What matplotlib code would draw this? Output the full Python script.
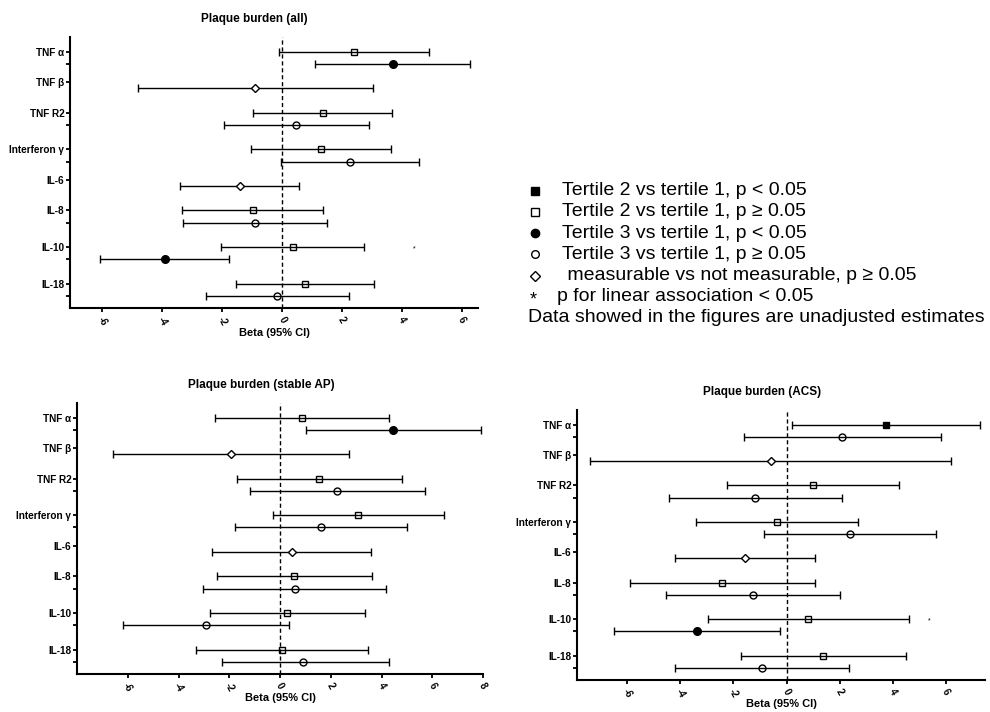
import matplotlib
matplotlib.use("Agg")
import matplotlib.pyplot as plt
import numpy as np

plt.rcParams["font.family"] = ["Liberation Sans", "DejaVu Sans"]

# cytokine labels (one per group) and the rows that belong to them
cytokines = ["TNF α", "TNF β", "TNF R2", "Interferon γ", "IL-6", "IL-8", "IL-10", "IL-18"]
row_ids = ["TNFa_T2", "TNFa_T3", "TNFb_meas", "TNFR2_T2", "TNFR2_T3",
           "IFNg_T2", "IFNg_T3", "IL6_meas", "IL8_T2", "IL8_T3",
           "IL10_T2", "IL10_T3", "IL18_T2", "IL18_T3"]

# --- Plaque burden (all)
all_est = [2.41, 3.70, -0.89, 1.36, 0.48, 1.30, 2.26, -1.41, -0.97, -0.90, 0.37, -3.91, 0.78, -0.16]
all_lo = [-0.11, 1.11, -4.81, -0.97, -1.94, -1.03, -0.03, -3.39, -3.33, -3.30, -2.03, -6.06, -1.52, -2.52]
all_hi = [4.91, 6.28, 3.03, 3.67, 2.91, 3.63, 4.56, 0.58, 1.37, 1.50, 2.74, -1.77, 3.08, 2.22]
all_kind = ["sq_open", "ci_fill", "diamond", "sq_open", "ci_open", "sq_open", "ci_open",
            "diamond", "sq_open", "ci_open", "sq_open", "ci_fill", "sq_open", "ci_open"]
all_star = {"IL10_T2": 4.42}

# --- Plaque burden (stable AP)
sap_est = [0.86, 4.44, -1.93, 1.54, 2.26, 3.07, 1.61, 0.46, 0.56, 0.58, 0.29, -2.93, 0.09, 0.90]
sap_lo = [-2.55, 1.02, -6.59, -1.70, -1.20, -0.29, -1.76, -2.67, -2.47, -3.03, -2.75, -6.20, -3.31, -2.29]
sap_hi = [4.31, 7.91, 2.72, 4.81, 5.73, 6.47, 4.99, 3.57, 3.63, 4.18, 3.33, 0.34, 3.46, 4.31]
sap_kind = ["sq_open", "ci_fill", "diamond", "sq_open", "ci_open", "sq_open", "ci_open",
            "diamond", "sq_open", "ci_open", "sq_open", "ci_open", "sq_open", "ci_open"]
sap_star = {}

# --- Plaque burden (ACS)
acs_est = [3.74, 2.09, -0.60, 1.01, -1.17, -0.36, 2.39, -1.56, -2.42, -1.26, 0.82, -3.38, 1.38, -0.91]
acs_lo = [0.19, -1.60, -7.42, -2.24, -4.42, -3.43, -0.86, -4.19, -5.91, -4.54, -2.97, -6.50, -1.70, -4.19]
acs_hi = [7.30, 5.81, 6.20, 4.24, 2.08, 2.70, 5.64, 1.07, 1.07, 2.01, 4.60, -0.25, 4.49, 2.35]
acs_kind = ["sq_fill", "ci_open", "diamond", "sq_open", "ci_open", "sq_open", "ci_open",
            "diamond", "sq_open", "ci_open", "sq_open", "ci_fill", "sq_open", "ci_open"]
acs_star = {"IL10_T2": 5.38}

legend_kinds = ["sq_fill", "sq_open", "ci_fill", "ci_open", "diamond"]
legend_texts = ["Tertile 2 vs tertile 1, p < 0.05",
                "Tertile 2 vs tertile 1, p \u2265 0.05",
                "Tertile 3 vs tertile 1, p < 0.05",
                "Tertile 3 vs tertile 1, p \u2265 0.05",
                " measurable vs not measurable, p \u2265 0.05"]
star_text = "p for linear association < 0.05"
note_text = "Data showed in the figures are unadjusted estimates"

# layout of rows on the y axis (top to bottom)
row_pos = [0, 1, 3, 5, 6, 8, 9, 11, 13, 14, 16, 17, 19, 20]
label_pos = [0, 2.5, 5, 8, 10.5, 13, 16, 19]
minor_pos = [1, 6, 9, 14, 17, 20]

STYLES = {
    "sq_fill": dict(marker="s", mfc="black", ms=5),
    "sq_open": dict(marker="s", mfc="none", ms=5),
    "ci_fill": dict(marker="o", mfc="black", ms=5.5),
    "ci_open": dict(marker="o", mfc="none", ms=5),
    "diamond": dict(marker="D", mfc="white", ms=4),
}


def draw_panel(fig, rect, title, est, lo, hi, kind, star, xlim, xticks):
    ax = fig.add_axes(rect)
    for i in range(len(est)):
        st = STYLES[kind[i]]
        ax.errorbar(est[i], row_pos[i],
                    xerr=[[est[i] - lo[i]], [hi[i] - est[i]]],
                    fmt=st["marker"], ms=st["ms"], mfc=st["mfc"], mec="black",
                    mew=1.0, color="black", ecolor="black", elinewidth=1.0,
                    capsize=3, capthick=1.3, zorder=3)
    for rid, sx in star.items():
        ax.text(sx, row_pos[row_ids.index(rid)] + 0.15, "*", fontsize=5,
                ha="center", va="center")
    ax.axvline(0, color="black", linestyle=(0, (3, 2)), linewidth=1.0, zorder=1)
    ax.set_xlim(*xlim)
    ax.set_ylim(21, -1.2)
    ax.set_xticks(xticks)
    ax.set_xticklabels([str(t) for t in xticks], rotation=-60, ha="center",
                       va="top", fontsize=7, fontweight="bold")
    ax.set_yticks(label_pos)
    ax.set_yticklabels(cytokines, fontsize=7.2, fontweight="bold")
    ax.set_yticks(minor_pos, minor=True)
    ax.tick_params(axis="y", which="both", length=3, width=1.3, pad=1)
    ax.tick_params(axis="x", length=3, width=1.3, pad=2)
    for s in ("top", "right"):
        ax.spines[s].set_visible(False)
    for s in ("left", "bottom"):
        ax.spines[s].set_linewidth(1.5)
    ax.set_title(title, x=0.453, pad=11, fontsize=8.5, fontweight="bold")
    ax.set_xlabel("Beta (95% CI)", fontsize=8, fontweight="bold")
    ax.xaxis.set_label_coords(0.5, -0.072)
    return ax


fig = plt.figure(figsize=(9.9, 7.12), dpi=100)

draw_panel(fig, [0.0707, 0.5674, 0.4121, 0.3806], "Plaque burden (all)",
           all_est, all_lo, all_hi, all_kind, all_star, (-7.07, 6.53), range(-6, 7, 2))
draw_panel(fig, [0.0778, 0.0534, 0.4101, 0.3806], "Plaque burden (stable AP)",
           sap_est, sap_lo, sap_hi, sap_kind, sap_star, (-8, 8), range(-6, 9, 2))
draw_panel(fig, [0.5828, 0.0449, 0.4121, 0.3792], "Plaque burden (ACS)",
           acs_est, acs_lo, acs_hi, acs_kind, acs_star, (-7.9, 7.48), range(-6, 7, 2))

# legend block (row units, 21.2 px per row)
lax = fig.add_axes([520 / 990, 1 - 328.5 / 712, 470 / 990, 148.4 / 712])
lax.set_xlim(0, 470)
lax.set_ylim(6.5, -0.5)
lax.axis("off")
for i, (k, t) in enumerate(zip(legend_kinds, legend_texts)):
    st = STYLES[k]
    size = st["ms"] + (1.5 if k == "diamond" else 0.5)
    lax.plot([15], [i], linestyle="none", marker=st["marker"], ms=size,
             mfc="black" if st["mfc"] == "black" else "white", mec="black", mew=1.0)
    lax.text(42, i, t, fontsize=14, ha="left", va="center")
lax.text(13, 5.15, "*", fontsize=13, ha="center", va="center")
lax.text(37, 5, star_text, fontsize=14, ha="left", va="center")
lax.text(8, 6, note_text, fontsize=14, ha="left", va="center")

fig.savefig("out.png", dpi=100)
